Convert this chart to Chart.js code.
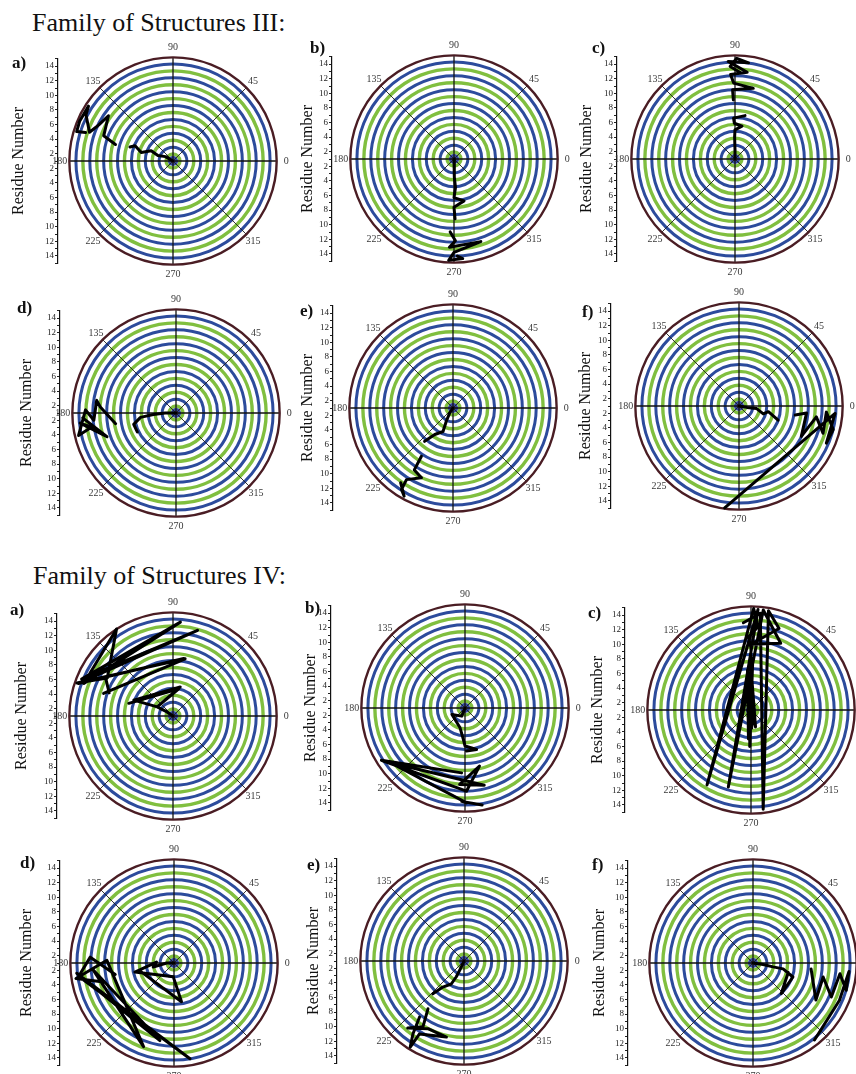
<!DOCTYPE html>
<html>
<head>
<meta charset="utf-8">
<script src="https://cdn.jsdelivr.net/npm/chart.js@4.4.1/dist/chart.umd.min.js"></script>
<style>
  html, body { margin: 0; padding: 0; background: #fff; }
  body { width: 856px; height: 1074px; position: relative; overflow: hidden;
         font-family: "Liberation Serif", "DejaVu Serif", serif; color: #111; }
  .title { position: absolute; font-size: 26px; line-height: 1; white-space: nowrap; }
  .lab { position: absolute; font-size: 17px; font-weight: bold; line-height: 1; }
  canvas { position: absolute; }
</style>
</head>
<body>
<div class="title" style="left:32px; top:10px;">Family of Structures III:</div>
<div class="title" style="left:33px; top:563px;">Family of Structures IV:</div>

<script>
// angle (deg) and residue number along each overlaid trace; null = break
const IIIa_ang = [0, 150, 160, 155, 165, 158, 162, null, 164, 160, 145, 154, 161, 152, 147, 157, 163, 162];
const IIIa_res = [1, 2.2, 3.2, 4.3, 5.5, 6.6, 7.2, null, 9.2, 11.1, 11.8, 12.3, 13.1, 14.5, 14.8, 14.9, 14.8, 13.6];

const IIIb_ang = [0, 270, 272, 273, 270, 283.5, 270, 271, null, 267, 271, 267, 288, 270, 267, 275, 272];
const IIIb_res = [1, 1.7, 3.5, 4.9, 6.3, 6.9, 7.6, 9.2, null, 11, 12.2, 13.1, 12.9, 13.8, 14.9, 14.7, 14.3];

const IIIc_ang = [0, 90, 91, 90, 78, 91, 92, 77, null, 91.6, 92, 75.5, 91, 93, 82, 94, 82, 89, 93, 86];
const IIIc_res = [1, 2.3, 4, 5, 5.6, 5.9, 6.6, 7.1, null, 9.1, 10.5, 11, 11.4, 12.6, 13, 14.4, 14.3, 14.8, 13.7, 12.8];

const IIId_ang = [0, 180, 184, 187, 195, 206, null, 190, 175.5, 171, 185, 178, 193, 189.5, 186, 199, 183];
const IIId_res = [1, 2.5, 4.1, 5.9, 7, 6.9, null, 9.4, 11.4, 12, 12.3, 13.4, 14.7, 12.7, 14.2, 11, 13.8];

const IIIe_ang = [0, 236, 243, 247, 235.5, 229.6, null, 236.8, 238, 245.7, 237, 237.7, 241, 235];
const IIIe_res = [1, 1.8, 3, 4.5, 5.4, 7, null, 8.9, 11, 11.5, 12.7, 14.2, 14.8, 13.5];

const IIIf_ang = [0, 350, 352, 342, 349, 340, null, 351, 354, 334, 352, 342, 356, 346, 337, 355.6, 262];
const IIIf_res = [1, 2.1, 3.4, 4.5, 5.1, 6.7, null, 8.8, 10.3, 10.5, 11.7, 13.1, 13, 14.3, 14, 14.2, 15.1];

const IVa_ang = [0, 146, 150, 76, 158, 150, 78, 164, null, 160, 150, 79.5, 161, 74, 158, 85.5, 160, 123, 150, 161, 78, 162];
const IVa_res = [1, 2, 3.5, 5.1, 6.8, 3.5, 4.8, 7.3, null, 10.3, 11.7, 9, 14.7, 13.2, 14.5, 13.9, 14, 15.2, 11.4, 14.9, 9, 11];

const IVb_ang = [0, 248, 206.6, 256, 267, 270, 285.6, 272, null, 267, 212, 271, 284, 266, 284, 216, 271, 268, 280];
const IVb_res = [1, 2.2, 3, 3.8, 5.3, 6.2, 6.9, 6.9, null, 9.9, 14.5, 12.4, 9.2, 11.5, 11.9, 13.7, 14, 13.8, 14.5];

const IVc_ang = [0, 112, 285, 88, 272, 95, 265, 88, 268, 90, 92, 85, 88.5, 239.6, 86, 253.6, 83, 66, 90, 71, 80, 277, 84.5, 95];
const IVc_res = [1, 2.4, 3.4, 5, 3.5, 6.5, 5, 8, 6, 9.5, 11, 12.5, 14.9, 12.9, 14.8, 12, 14.8, 11, 10, 12.8, 14.8, 14.7, 14.3, 13];

const IVd_ang = [0, 180, 191, 177, 193, 267, 281, 193, null, 191, 176, 188, 279.5, 186, 259.7, 185, 250, 177.7, 189, 195];
const IVd_res = [1, 2, 3.9, 3.4, 6.5, 2.9, 6.4, 5.8, null, 9.2, 12.5, 14.2, 14.3, 14.4, 11.8, 12.1, 13.2, 10.2, 14.6, 11];

const IVe_ang = [0, 246, 244, 241, 231, 226.5, null, 233, 238, 230, 242, 257, 238.6, 238, 235, 231.6];
const IVe_res = [1, 1.9, 3.4, 4.6, 5.6, 7.2, null, 9.2, 11.6, 13, 11.5, 11.7, 12.7, 14.9, 13.2, 10.8];

const IVf_ang = [0, 352, 349, 349, 340.7, 312.7, 345, null, 354, 329.5, 348.7, 336.5, 353, 343.7, 355, 336.7, 308.6];
const IVf_res = [1, 2.4, 3.8, 5.2, 6.8, 6.7, 6, null, 9, 11, 10.8, 12.7, 13, 14.3, 14.2, 13.9, 14.5];

const ANGLE_LABELS = [0, 45, 90, 135, 180, 225, 270, 315];

// layout of the 12 panels (page pixels)
const PANELS = [
  { letter: 'a)', cx: 173, cy: 161, axisX: 58,  titleOff: 39, lx: 12,  ly: 68,  ang: IIIa_ang, res: IIIa_res },
  { letter: 'b)', cx: 454, cy: 159, axisX: 332, titleOff: 24, lx: 310, ly: 53,  ang: IIIb_ang, res: IIIb_res },
  { letter: 'c)', cx: 735, cy: 159, axisX: 617, titleOff: 30, lx: 592, ly: 53,  ang: IIIc_ang, res: IIIc_res },
  { letter: 'd)', cx: 176, cy: 413, axisX: 60,  titleOff: 33, lx: 17,  ly: 313, ang: IIId_ang, res: IIId_res },
  { letter: 'e)', cx: 453, cy: 408, axisX: 333, titleOff: 25, lx: 300, ly: 316, ang: IIIe_ang, res: IIIe_res },
  { letter: 'f)', cx: 739, cy: 406, axisX: 611, titleOff: 25, lx: 582, ly: 317, ang: IIIf_ang, res: IIIf_res },
  { letter: 'a)', cx: 173, cy: 716, axisX: 57,  titleOff: 35, lx: 10,  ly: 615, ang: IVa_ang,  res: IVa_res },
  { letter: 'b)', cx: 465, cy: 708, axisX: 331, titleOff: 20, lx: 305, ly: 613, ang: IVb_ang,  res: IVb_res },
  { letter: 'c)', cx: 751, cy: 710, axisX: 625, titleOff: 27, lx: 588, ly: 618, ang: IVc_ang,  res: IVc_res },
  { letter: 'd)', cx: 174, cy: 963, axisX: 60,  titleOff: 33, lx: 20,  ly: 868, ang: IVd_ang,  res: IVd_res },
  { letter: 'e)', cx: 464, cy: 961, axisX: 337, titleOff: 23, lx: 307, ly: 870, ang: IVe_ang,  res: IVe_res },
  { letter: 'f)', cx: 753, cy: 963, axisX: 628, titleOff: 28, lx: 592, ly: 870, ang: IVf_ang,  res: IVf_res }
];

const FONT = 'Liberation Serif';
const K = 7.3;          // px per residue unit
const YMAX = 14;
const OUTER = 14.2;     // outer circle, in units from centre
const RIGHT = 135;      // px of chart area right of centre
const H = 250, PAD_T = 22.8;

function toXY(ang, res) {
  return ang.map((a, i) => {
    if (a == null || res[i] == null) return { x: null, y: null };
    const u = res[i] - 1, t = a * Math.PI / 180;
    return { x: u * Math.cos(t), y: u * Math.sin(t) };
  });
}

const polarGrid = {
  id: 'polarGrid',
  beforeDatasetsDraw(chart) {
    const { ctx } = chart;
    const xs = chart.scales.x, ys = chart.scales.y;
    const ox = xs.getPixelForValue(0), oy = ys.getPixelForValue(0);
    const kx = xs.getPixelForValue(1) - ox, ky = oy - ys.getPixelForValue(1);
    ctx.save();
    // coloured rings
    for (let j = 1; j <= 14; j++) {
      const u = 0.95 * j;
      ctx.beginPath();
      ctx.ellipse(ox, oy, u * kx, u * ky, 0, 0, 2 * Math.PI);
      ctx.strokeStyle = j % 2 ? '#80bf3f' : '#2c4b9c';
      ctx.lineWidth = j % 2 ? 3.4 : 3;
      ctx.stroke();
    }
    // centre blob
    ctx.beginPath();
    ctx.ellipse(ox, oy, 0.7 * kx, 0.7 * ky, 0, 0, 2 * Math.PI);
    ctx.fillStyle = '#34489e';
    ctx.fill();
    ctx.beginPath();
    ctx.arc(ox, oy, 1.6, 0, 2 * Math.PI);
    ctx.fillStyle = '#a8324f';
    ctx.fill();
    // spokes
    ANGLE_LABELS.forEach(a => {
      const t = a * Math.PI / 180;
      ctx.beginPath();
      ctx.moveTo(ox, oy);
      ctx.lineTo(ox + OUTER * kx * Math.cos(t), oy - OUTER * ky * Math.sin(t));
      ctx.strokeStyle = a % 90 === 0 ? '#111' : '#1f1f1f';
      ctx.lineWidth = a % 90 === 0 ? 1.3 : 0.9;
      ctx.stroke();
    });
    // outer circle
    ctx.beginPath();
    ctx.ellipse(ox, oy, OUTER * kx, OUTER * ky, 0, 0, 2 * Math.PI);
    ctx.strokeStyle = '#4a1d24';
    ctx.lineWidth = 2.4;
    ctx.stroke();
    // angle labels
    ctx.fillStyle = '#3a3a3a';
    ctx.font = '10px "' + FONT + '"';
    ctx.textAlign = 'center';
    ctx.textBaseline = 'middle';
    ANGLE_LABELS.forEach(a => {
      const t = a * Math.PI / 180, r = 15.5;
      ctx.fillText(String(a), ox + r * kx * Math.cos(t), oy - r * ky * Math.sin(t));
    });
    ctx.restore();
  }
};

PANELS.forEach(p => {
  const axisW = Math.round(p.titleOff + 9.6);
  const gap = p.cx - p.axisX;
  const cw = gap + RIGHT;
  const W = Math.ceil(axisW + cw);
  const padR = W - axisW - cw;
  const chartH = 2 * YMAX * K;
  const padB = H - PAD_T - chartH;

  const cv = document.createElement('canvas');
  cv.width = W; cv.height = H;
  cv.style.left = (p.axisX - axisW) + 'px';
  cv.style.top = (p.cy - PAD_T - YMAX * K) + 'px';
  cv.style.width = W + 'px'; cv.style.height = H + 'px';
  document.body.appendChild(cv);

  const lab = document.createElement('div');
  lab.className = 'lab';
  lab.textContent = p.letter;
  lab.style.left = p.lx + 'px';
  lab.style.top = (p.ly - 14) + 'px';
  document.body.appendChild(lab);

  new Chart(cv, {
    type: 'scatter',
    data: {
      datasets: [{
        data: toXY(p.ang, p.res),
        showLine: true,
        borderColor: '#000',
        borderWidth: 3,
        borderJoinStyle: 'round',
        borderCapStyle: 'round',
        pointRadius: 0,
        tension: 0,
        clip: false
      }]
    },
    options: {
      responsive: false,
      animation: false,
      events: [],
      layout: { padding: { left: 0, top: PAD_T, right: padR, bottom: padB } },
      plugins: { legend: { display: false }, tooltip: { enabled: false } },
      scales: {
        x: { type: 'linear', display: false, min: -gap / K, max: RIGHT / K },
        y: {
          type: 'linear',
          min: -YMAX, max: YMAX,
          ticks: {
            stepSize: 1, autoSkip: false, padding: 1, color: '#222',
            font: { family: FONT, size: 9 },
            callback: v => {
              const n = Math.round(Math.abs(v)) + 1;
              return n % 2 === 0 ? String(n) : '';
            }
          },
          grid: { drawOnChartArea: false, drawTicks: true, tickLength: 3, color: '#222', lineWidth: 1 },
          border: { display: true, color: '#111', width: 1.2 },
          title: { display: true, text: 'Residue Number', color: '#111', padding: 0,
                   font: { family: FONT, size: 16 } },
          afterFit: s => { s.width = axisW; s.paddingTop = 0; s.paddingBottom = 0; }
        }
      }
    },
    plugins: [polarGrid]
  });
});
</script>
</body>
</html>
